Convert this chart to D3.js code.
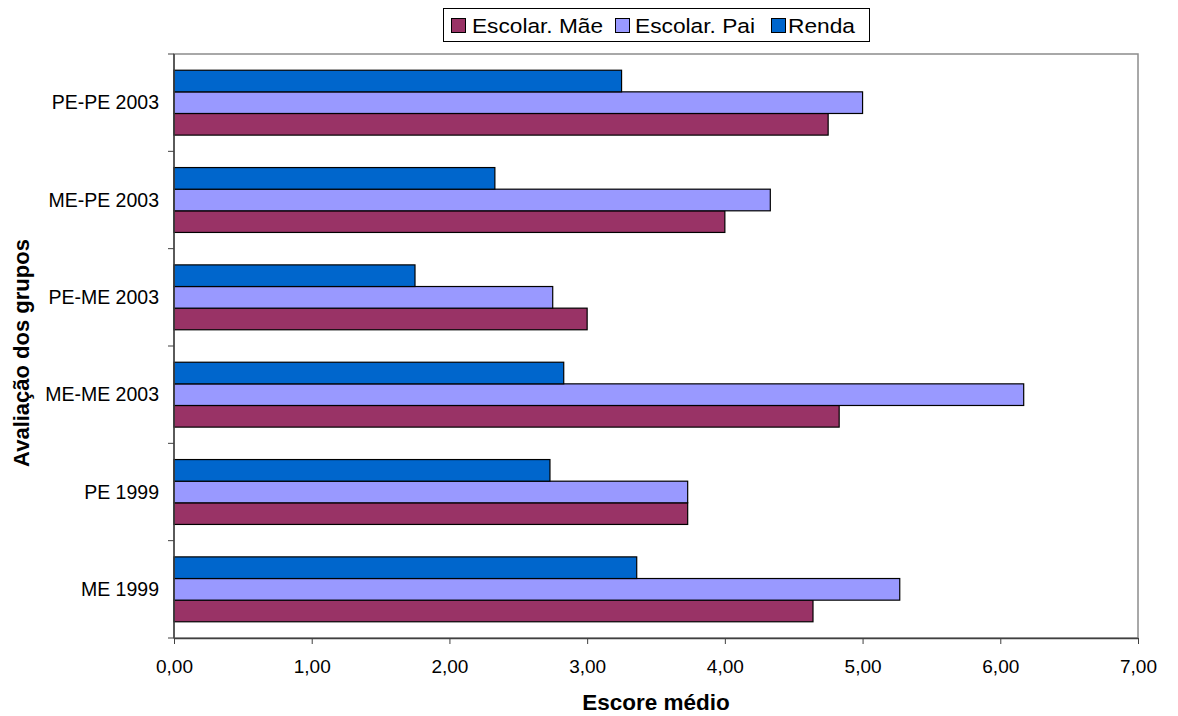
<!DOCTYPE html>
<html>
<head>
<meta charset="utf-8">
<script src="https://cdn.jsdelivr.net/npm/d3@7"></script>
<style>
  html, body { margin: 0; padding: 0; background: #fff; }
  svg { display: block; font-family: "Liberation Sans", Arial, sans-serif; }
</style>
</head>
<body>
<svg id="chart" width="1178" height="716"></svg>
<script>
// ---- data (bottom to top as drawn) ----
const categories = ["ME 1999", "PE 1999", "ME-ME 2003", "PE-ME 2003", "ME-PE 2003", "PE-PE 2003"];
const seriesNames = ["Escolar. Mãe", "Escolar. Pai", "Renda"];
const maeValues   = [4.64, 3.73, 4.83, 3.00, 4.00, 4.75];
const paiValues   = [5.27, 3.73, 6.17, 2.75, 4.33, 5.00];
const rendaValues = [3.36, 2.73, 2.83, 1.75, 2.33, 3.25];
const xTickValues = [0, 1, 2, 3, 4, 5, 6, 7];
const seriesColors = ["#993366", "#9999FF", "#0066CC"];

const seriesValues = [maeValues, paiValues, rendaValues];

const svg = d3.select("#chart");
const plot = { left: 174, right: 1138, top: 54, bottom: 638 };

const x = d3.scaleLinear().domain([0, 7]).range([plot.left, plot.right]);
const y = d3.scaleBand()
  .domain(categories.slice().reverse())
  .range([plot.top, plot.bottom])
  .padding(0);
// within a category, top to bottom: Renda, Pai, Mãe
const ySeries = d3.scaleBand()
  .domain(seriesNames.slice().reverse())
  .range([0, y.bandwidth()])
  .paddingInner(0)
  .paddingOuter(0.75);

// plot area border (gray)
svg.append("rect")
  .attr("x", plot.left).attr("y", plot.top)
  .attr("width", plot.right - plot.left).attr("height", plot.bottom - plot.top)
  .attr("fill", "#fff").attr("stroke", "#8c8c8c").attr("stroke-width", 1.5);

// bars
const rows = [];
categories.forEach((c, i) => {
  seriesNames.forEach((s, j) => rows.push({ cat: c, series: s, value: seriesValues[j][i], color: seriesColors[j] }));
});
svg.append("g").selectAll("rect").data(rows).join("rect")
  .attr("x", x(0))
  .attr("y", d => y(d.cat) + ySeries(d.series))
  .attr("width", d => x(d.value) - x(0))
  .attr("height", ySeries.bandwidth())
  .attr("fill", d => d.color)
  .attr("stroke", "#000")
  .attr("stroke-width", 1.2);

// x axis
const fmt = d => d.toFixed(2).replace(".", ",");
const xAxis = svg.append("g")
  .attr("transform", `translate(0,${plot.bottom})`)
  .call(d3.axisBottom(x).tickValues(xTickValues).tickFormat(fmt).tickSizeInner(6).tickSizeOuter(0).tickPadding(16));
xAxis.select(".domain").attr("stroke", "#404040").attr("stroke-width", 1.5);
xAxis.selectAll(".tick line").attr("stroke", "#404040");
xAxis.selectAll(".tick text").attr("font-size", 19).attr("fill", "#000")
  .attr("font-family", "'Liberation Sans', Arial, sans-serif");

// y axis (category labels centered in band, ticks at band boundaries)
const yAxis = svg.append("g").attr("transform", `translate(${plot.left},0)`);
yAxis.append("line")
  .attr("x1", 0).attr("x2", 0).attr("y1", plot.top).attr("y2", plot.bottom)
  .attr("stroke", "#404040").attr("stroke-width", 1.5);
const boundaries = categories.map(c => y(c)).concat([plot.bottom]);
yAxis.selectAll("line.tk").data(boundaries).join("line").attr("class", "tk")
  .attr("x1", -6).attr("x2", 0).attr("y1", d => d).attr("y2", d => d)
  .attr("stroke", "#404040").attr("stroke-width", 1);
yAxis.selectAll("text").data(categories).join("text")
  .attr("x", -15)
  .attr("y", d => y(d) + y.bandwidth() / 2)
  .attr("dy", "0.35em")
  .attr("text-anchor", "end")
  .attr("font-size", 19.5)
  .text(d => d);

// axis titles
svg.append("text")
  .attr("x", (plot.left + plot.right) / 2).attr("y", 710)
  .attr("text-anchor", "middle").attr("font-size", 22.5).attr("font-weight", "bold")
  .text("Escore médio");
svg.append("text")
  .attr("transform", `translate(29,353) rotate(-90)`)
  .attr("text-anchor", "middle").attr("font-size", 22).attr("font-weight", "bold")
  .text("Avaliação dos grupos");

// legend
const legend = svg.append("g");
legend.append("rect")
  .attr("x", 443.5).attr("y", 8.5).attr("width", 426).attr("height", 33)
  .attr("fill", "#fff").attr("stroke", "#000").attr("stroke-width", 1);
const legendSwatchX = [451, 615, 771];
const legendTextX = [472, 635, 788];
const legendTextW = [131, 120, 67];
seriesNames.forEach((s, i) => {
  legend.append("rect")
    .attr("x", legendSwatchX[i] + 0.5).attr("y", 18.5).attr("width", 14).attr("height", 14)
    .attr("fill", seriesColors[i]).attr("stroke", "#000").attr("stroke-width", 1);
  legend.append("text")
    .attr("x", legendTextX[i]).attr("y", 32.5)
    .attr("font-size", 20.5)
    .attr("textLength", legendTextW[i]).attr("lengthAdjust", "spacingAndGlyphs")
    .text(s);
});
</script>
</body>
</html>
